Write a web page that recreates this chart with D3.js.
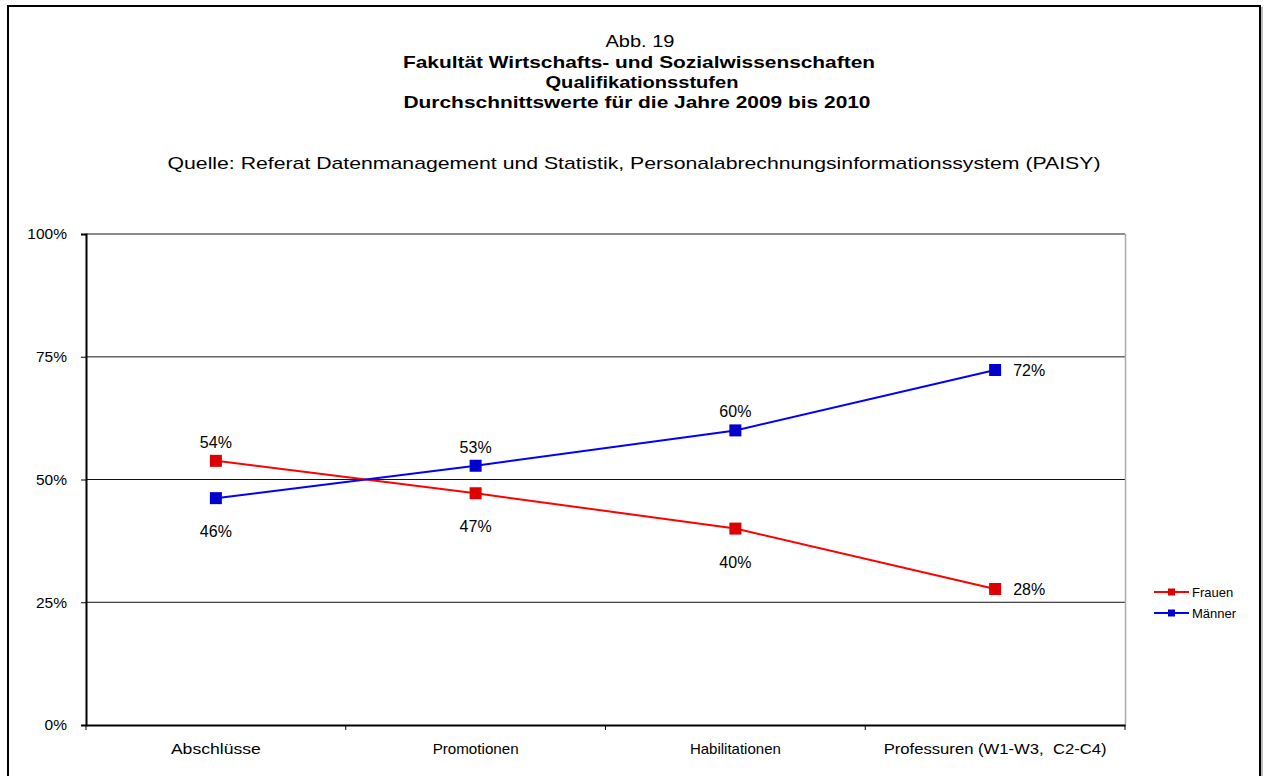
<!DOCTYPE html>
<html lang="de">
<head>
<meta charset="utf-8">
<title>Abb. 19</title>
<script src="https://d3js.org/d3.v7.min.js"></script>
<style>
  body { margin: 0; background: #fff; font-family: "Liberation Sans", Arial, sans-serif; }
  svg text { fill: #000; white-space: pre; }
</style>
</head>
<body>
<div id="chart"></div>
<script>
// data
var categories = ["Abschlüsse", "Promotionen", "Habilitationen", "Professuren (W1-W3,  C2-C4)"]
var frauen = [53.8, 47.2, 40.0, 27.7]
var maenner = [46.2, 52.8, 60.0, 72.3]
var frauenLabels = ["54%", "47%", "40%", "28%"]
var maennerLabels = ["46%", "53%", "60%", "72%"]
var yTicks = [0, 25, 50, 75, 100]

var W = 1264, H = 776
var plot = {left: 86, right: 1125, top: 234, bottom: 725}
// the original renderer sets text a bit wider than Liberation Sans does
var catWidths = [90, 86, 91, 223]

var svg = d3.select("#chart").append("svg")
    .attr("width", W).attr("height", H)
    .style("display", "block")

// outer frame with a little shadow
svg.append("rect").attr("x", 10).attr("y", 8).attr("width", 1252).attr("height", 780)
    .attr("fill", "none").attr("stroke", "#bbb").attr("stroke-width", 2)
svg.append("rect").attr("x", 8).attr("y", 6).attr("width", 1252).attr("height", 780)
    .attr("fill", "#fff").attr("stroke", "#000").attr("stroke-width", 2)

// titles
var titles = [
  {t: "Abb. 19", x: 640, y: 47, w: "normal", s: 17, len: 69},
  {t: "Fakultät Wirtschafts- und Sozialwissenschaften", x: 639, y: 68, w: "bold", s: 17, len: 472},
  {t: "Qualifikationsstufen", x: 642, y: 88, w: "bold", s: 17, len: 193},
  {t: "Durchschnittswerte für die Jahre 2009 bis 2010", x: 637, y: 108, w: "bold", s: 17, len: 467},
  {t: "Quelle: Referat Datenmanagement und Statistik, Personalabrechnungsinformationssystem (PAISY)", x: 634, y: 169, w: "normal", s: 17, len: 933}
]
svg.selectAll("text.title").data(titles).enter().append("text")
    .attr("class", "title")
    .attr("x", function(d){ return d.x - d.len / 2 }).attr("y", function(d){ return d.y })
    .attr("font-size", function(d){ return d.s + "px" })
    .attr("font-weight", function(d){ return d.w })
    .attr("textLength", function(d){ return d.len })
    .attr("lengthAdjust", "spacingAndGlyphs")
    .text(function(d){ return d.t })

var x = d3.scaleBand().domain(categories).range([plot.left, plot.right])
var y = d3.scaleLinear().domain([0, 100]).range([plot.bottom, plot.top])
var cx = function(i){ return x(categories[i]) + x.bandwidth() / 2 }

// gridlines
svg.selectAll("line.grid").data(yTicks.filter(function(d){ return d > 0 })).enter().append("line")
    .attr("class", "grid")
    .attr("x1", plot.left).attr("x2", plot.right)
    .attr("y1", function(d){ return y(d) }).attr("y2", function(d){ return y(d) })
    .attr("stroke", function(d){ return d >= 75 ? "#666" : "#111" })
    .attr("stroke-width", function(d){ return d >= 75 ? 1.5 : 1 })

// right border of plot area
svg.append("line").attr("x1", plot.right + 0.5).attr("x2", plot.right + 0.5)
    .attr("y1", plot.top).attr("y2", plot.bottom)
    .attr("stroke", "#aaa").attr("stroke-width", 1.5)

// y axis
var yAxis = d3.axisLeft(y).tickValues(yTicks).tickFormat(function(d){ return d + "%" })
    .tickSize(5).tickPadding(14)
var gy = svg.append("g").attr("transform", "translate(" + plot.left + ",0)").call(yAxis)
gy.select(".domain").attr("stroke", "#000").attr("stroke-width", 2)
gy.selectAll(".tick line").attr("stroke", "#000")
gy.selectAll(".tick text").attr("font-size", "15.5px").attr("font-family", "Liberation Sans, Arial, sans-serif")
    .attr("fill", "#000")

// x axis
var gx = svg.append("g").attr("transform", "translate(0," + plot.bottom + ")")
    .call(d3.axisBottom(x).tickSize(0).tickPadding(18))
gx.select(".domain").attr("stroke", "#000").attr("stroke-width", 2)
gx.selectAll(".tick text").attr("font-size", "15px").attr("font-family", "Liberation Sans, Arial, sans-serif")
    .attr("fill", "#000")
    .attr("textLength", function(d, i){ return catWidths[i] })
    .attr("lengthAdjust", "spacingAndGlyphs")
// tick marks between the categories
var bounds = categories.map(function(c){ return x(c) }).concat([plot.right])
svg.selectAll("line.xt").data(bounds).enter().append("line")
    .attr("x1", function(d){ return d }).attr("x2", function(d){ return d })
    .attr("y1", plot.bottom).attr("y2", plot.bottom + 5)
    .attr("stroke", "#000")

// series
var series = [
  {name: "Frauen", values: frauen, labels: frauenLabels, line: "#ff0000", mark: "#dd0000"},
  {name: "Männer", values: maenner, labels: maennerLabels, line: "#0000ff", mark: "#0000cc"}
]
var line = d3.line().x(function(d, i){ return cx(i) }).y(function(d){ return y(d) })

series.forEach(function(s, k){
  var other = series[1 - k].values
  svg.append("path").datum(s.values).attr("d", line)
      .attr("fill", "none").attr("stroke", s.line).attr("stroke-width", 2)
  svg.selectAll("rect.m" + k).data(s.values).enter().append("rect")
      .attr("x", function(d, i){ return cx(i) - 6 }).attr("y", function(d){ return y(d) - 6 })
      .attr("width", 12).attr("height", 12).attr("fill", s.mark)
  svg.selectAll("text.l" + k).data(s.values).enter().append("text")
      .attr("font-size", "16px")
      .attr("x", function(d, i){ return i === categories.length - 1 ? cx(i) + 18 : cx(i) })
      .attr("y", function(d, i){
        if (i === categories.length - 1) return y(d) + 6
        return d > other[i] ? y(d) - 13 : y(d) + 39
      })
      .attr("text-anchor", function(d, i){ return i === categories.length - 1 ? "start" : "middle" })
      .text(function(d, i){ return s.labels[i] })
})

// legend
var lg = svg.append("g").attr("transform", "translate(1154,592)")
series.forEach(function(s, k){
  var g = lg.append("g").attr("transform", "translate(0," + (k * 21) + ")")
  g.append("line").attr("x1", 0).attr("x2", 35).attr("stroke", s.line).attr("stroke-width", 2)
  g.append("rect").attr("x", 14).attr("y", -3.5).attr("width", 7).attr("height", 7).attr("fill", s.mark)
  g.append("text").attr("x", 38).attr("y", 4.5).attr("font-size", "13px").text(s.name)
})
</script>
</body>
</html>
